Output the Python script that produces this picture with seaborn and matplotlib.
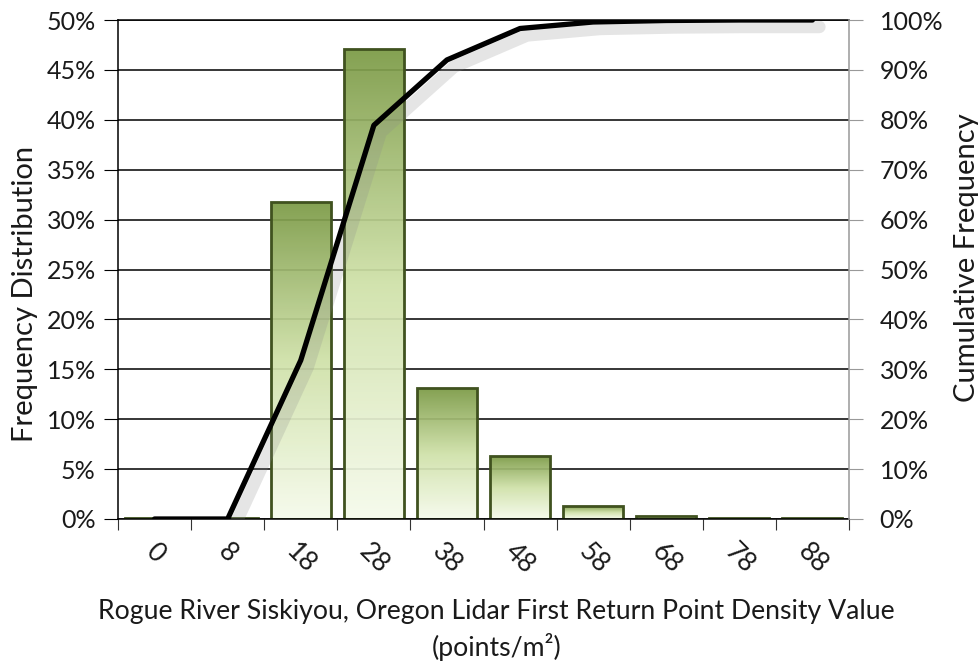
import numpy as np
import matplotlib
matplotlib.use("Agg")
import matplotlib.pyplot as plt
import matplotlib.patheffects as pe
from matplotlib.colors import LinearSegmentedColormap
import seaborn as sns

# values (percent)
bins = ["0", "8", "18", "28", "38", "48", "58", "68", "78", "88"]
freq = [0.1, 0.1, 31.8, 47.1, 13.1, 6.3, 1.3, 0.3, 0.1, 0.1]
cumulative = [0.0, 0.0, 31.8, 78.9, 92.0, 98.3, 99.6, 99.9, 100.0, 100.0]

sns.set_style("white")
plt.rcParams['font.family'] = ['Lato', 'DejaVu Sans']
text_col = "#1a1a1a"

fig = plt.figure(figsize=(9.79, 6.66), dpi=100)
ax = fig.add_axes([118 / 979, 147 / 666, 731 / 979, 499 / 666])

pos = np.arange(len(bins))
sns.barplot(x=pos, y=freq, ax=ax, width=0.82, native_scale=True,
            color="#7b9a45", edgecolor="#40521f", linewidth=2.0, zorder=2)

# vertical gradient inside each bar: dark green top, nearly white bottom
grad = LinearSegmentedColormap.from_list("g", ["#f6fbec", "#cfe1a8", "#7b9a45"])
g = np.linspace(0, 1, 256).reshape(-1, 1)
for p in ax.patches:
    x0, y0 = p.get_x(), p.get_y()
    w, h = p.get_width(), p.get_height()
    im = ax.imshow(g, cmap=grad, origin="lower", aspect="auto", alpha=0.93,
                   extent=(x0, x0 + w, y0, y0 + h), zorder=2.1)
    im.set_clip_path(p)
    p.set_facecolor("none")
    p.set_zorder(2.2)

ax.set_xlim(-0.5, len(bins) - 0.5)
ax.set_ylim(0, 50)
ax.set_yticks(np.arange(0, 51, 5))
ax.set_yticklabels([f"{v}%" for v in range(0, 51, 5)])
ax.yaxis.grid(True, color="black", linewidth=1.1)
ax.set_axisbelow(True)

# boundary ticks on x, labels centred under bars
ax.set_xticks(np.arange(-0.5, len(bins), 1.0))
ax.set_xticklabels([])
ax.set_xticks(pos, minor=True)
ax.set_xticklabels(bins, minor=True, rotation=-45, ha="center", va="top",
                   fontsize=19, color=text_col)
ax.tick_params(axis="x", which="major", direction="out", length=8,
               color="#333333", bottom=True)
ax.tick_params(axis="x", which="minor", length=0, pad=14)
ax.tick_params(axis="y", direction="out", length=10, color="black", left=True,
               labelsize=18, labelcolor=text_col, pad=6)

for s in ["left", "bottom", "top"]:
    ax.spines[s].set_color("black")
    ax.spines[s].set_linewidth(1.1)
ax.spines["right"].set_visible(False)

ax.set_ylabel("Frequency Distribution", fontsize=21, color=text_col, labelpad=6)
ax.yaxis.label.set_y(0.451)
ax.set_xlabel("Rogue River Siskiyou, Oregon Lidar First Return Point Density Value\n"
              "(points/m\u00b2)", fontsize=19.2, color=text_col, labelpad=15,
              linespacing=1.4)
ax.xaxis.label.set_x(0.518)

ax2 = ax.twinx()
sns.lineplot(x=pos, y=cumulative, ax=ax2, color="black", linewidth=3.8,
             zorder=5, path_effects=[pe.SimpleLineShadow(offset=(5, -5), shadow_color="#8a8a8a",
                                                         alpha=0.22, linewidth=9),
                                     pe.Normal()])
ax2.set_ylim(0, 100)
ax2.set_yticks(np.arange(0, 101, 10))
ax2.set_yticklabels([f"{v}%" for v in range(0, 101, 10)])
ax2.tick_params(axis="y", direction="out", length=10, color="#999999", right=True,
                labelsize=18, labelcolor=text_col, pad=12)
for s in ["left", "bottom", "top"]:
    ax2.spines[s].set_visible(False)
ax2.spines["right"].set_color("#999999")
ax2.spines["right"].set_linewidth(1.1)
ax2.set_ylabel("Cumulative Frequency", fontsize=21, color=text_col, labelpad=8)
ax2.yaxis.label.set_y(0.523)
ax2.set_xlim(-0.5, len(bins) - 0.5)

fig.savefig("out.png", dpi=100)
